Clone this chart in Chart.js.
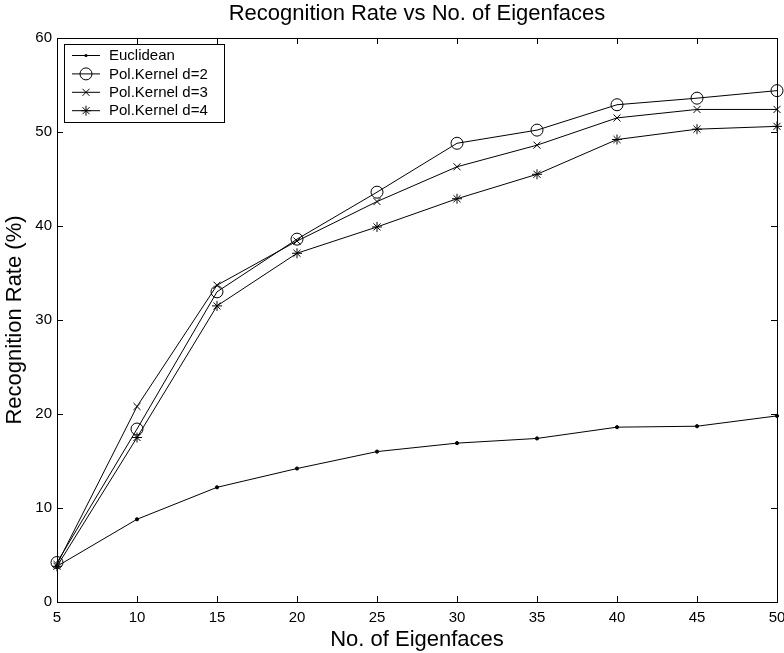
<!DOCTYPE html>
<html lang="en">
<head>
    <meta charset="UTF-8">
    <title>Recognition Rate vs No. of Eigenfaces</title>
    <script src="https://cdn.jsdelivr.net/npm/chart.js"></script>
    <style>
        body {
            margin: 0;
            padding: 0;
            background: #fff;
        }
        .wrap {
            width: 784px;
            height: 653px;
        }
    </style>
</head>
<body>
    <div class="wrap">
        <canvas id="chart" width="784" height="653"></canvas>
    </div>
    <script>
        // data
        const eigenfaces = [5, 10, 15, 20, 25, 30, 35, 40, 45, 50];
        const euclidean = [3.8, 8.8, 12.2, 14.2, 16.0, 16.9, 17.4, 18.6, 18.7, 19.8];
        const polD2 = [4.2, 18.4, 33.0, 38.6, 43.6, 48.8, 50.2, 52.9, 53.6, 54.4];
        const polD3 = [4.0, 20.8, 33.7, 38.4, 42.6, 46.3, 48.6, 51.5, 52.4, 52.4];
        const polD4 = [3.8, 17.5, 31.5, 37.1, 39.9, 42.9, 45.5, 49.2, 50.3, 50.6];
        const seriesNames = ['Euclidean', 'Pol.Kernel d=2', 'Pol.Kernel d=3', 'Pol.Kernel d=4'];
        const yTicks = [0, 10, 20, 30, 40, 50, 60];

        const FONT = '"Liberation Sans", Arial, Helvetica, sans-serif';

        function pts(vals) {
            return vals.map((v, i) => ({ x: eigenfaces[i], y: v }));
        }

        function drawMarker(ctx, style, x, y) {
            ctx.save();
            ctx.strokeStyle = '#000';
            ctx.fillStyle = '#000';
            ctx.lineWidth = 1;
            ctx.beginPath();
            if (style === 'dot') {
                ctx.arc(x, y, 1.6, 0, Math.PI * 2);
                ctx.fill();
            } else if (style === 'circle') {
                ctx.arc(x, y, 6, 0, Math.PI * 2);
                ctx.stroke();
            } else {
                const r = 5;
                ctx.moveTo(x - r * 0.7, y - r * 0.7); ctx.lineTo(x + r * 0.7, y + r * 0.7);
                ctx.moveTo(x + r * 0.7, y - r * 0.7); ctx.lineTo(x - r * 0.7, y + r * 0.7);
                if (style === 'star') {
                    ctx.moveTo(x - r, y); ctx.lineTo(x + r, y);
                    ctx.moveTo(x, y - r); ctx.lineTo(x, y + r);
                }
                ctx.stroke();
            }
            ctx.restore();
        }

        // MATLAB style box with inward ticks and a boxed legend
        const framePlugin = {
            id: 'frame',
            afterDraw(chart) {
                const ctx = chart.ctx;
                const a = chart.chartArea;
                const xs = chart.scales.x, ys = chart.scales.y;
                const tl = 6;
                ctx.save();
                ctx.strokeStyle = '#000';
                ctx.lineWidth = 1;
                ctx.beginPath();
                eigenfaces.forEach(v => {
                    const px = Math.round(xs.getPixelForValue(v)) + 0.5;
                    ctx.moveTo(px, a.bottom);
                    ctx.lineTo(px, a.bottom - tl);
                    ctx.moveTo(px, a.top);
                    ctx.lineTo(px, a.top + tl);
                });
                yTicks.forEach(v => {
                    const py = Math.round(ys.getPixelForValue(v)) + 0.5;
                    ctx.moveTo(a.left, py);
                    ctx.lineTo(a.left + tl, py);
                    ctx.moveTo(a.right, py);
                    ctx.lineTo(a.right - tl, py);
                });
                ctx.stroke();
                ctx.strokeRect(Math.round(a.left) + 0.5, Math.round(a.top) + 0.5,
                    Math.round(a.right - a.left), Math.round(a.bottom - a.top));

                // legend
                const lx = 64, ly = 44, lw = 160, lh = 78, rowH = 18.4;
                ctx.fillStyle = '#fff';
                ctx.fillRect(lx, ly, lw, lh);
                ctx.strokeRect(lx + 0.5, ly + 0.5, lw, lh);
                ctx.font = '15px ' + FONT;
                ctx.textBaseline = 'middle';
                const styles = ['dot', 'circle', 'crossRot', 'star'];
                chart.data.datasets.forEach((ds, i) => {
                    const y = ly + 11 + i * rowH;
                    ctx.beginPath();
                    ctx.moveTo(72, y + 0.5);
                    ctx.lineTo(100, y + 0.5);
                    ctx.stroke();
                    drawMarker(ctx, styles[i], 86, y + 0.5);
                    ctx.fillStyle = '#000';
                    ctx.fillText(ds.label, 109, y + 1);
                });
                ctx.restore();
            }
        };

        const common = {
            borderColor: '#000',
            borderWidth: 1,
            backgroundColor: 'transparent',
            pointBorderColor: '#000',
            pointBorderWidth: 1,
            tension: 0,
            clip: false
        };

        new Chart(document.getElementById('chart').getContext('2d'), {
            type: 'line',
            data: {
                datasets: [
                    Object.assign({}, common, { label: seriesNames[0], data: pts(euclidean), pointStyle: 'circle', pointRadius: 1.6, pointBackgroundColor: '#000' }),
                    Object.assign({}, common, { label: seriesNames[1], data: pts(polD2), pointStyle: 'circle', pointRadius: 6, pointBackgroundColor: 'transparent' }),
                    Object.assign({}, common, { label: seriesNames[2], data: pts(polD3), pointStyle: 'crossRot', pointRadius: 5 }),
                    Object.assign({}, common, { label: seriesNames[3], data: pts(polD4), pointStyle: 'star', pointRadius: 5 })
                ]
            },
            options: {
                responsive: false,
                animation: false,
                events: [],
                layout: { padding: { left: 0, right: 7, top: 0, bottom: 0 } },
                plugins: {
                    legend: { display: false },
                    tooltip: { enabled: false },
                    title: {
                        display: true,
                        fullSize: false,
                        text: 'Recognition Rate vs No. of Eigenfaces',
                        color: '#000',
                        font: { family: FONT, size: 22, weight: 'normal' },
                        padding: { top: 1, bottom: 10.6 }
                    }
                },
                scales: {
                    x: {
                        type: 'linear',
                        min: 5,
                        max: 50,
                        grid: { display: false, drawTicks: false, tickLength: 0 },
                        border: { display: false },
                        ticks: {
                            stepSize: 5,
                            color: '#000',
                            padding: 7,
                            maxRotation: 0,
                            font: { family: FONT, size: 15 }
                        },
                        title: {
                            display: true,
                            text: 'No. of Eigenfaces',
                            color: '#000',
                            font: { family: FONT, size: 22 },
                            padding: { top: 0, bottom: 0 }
                        },
                        afterFit(scale) {
                            scale.height = 51;
                            scale.paddingLeft = 0;
                            scale.paddingRight = 0;
                        }
                    },
                    y: {
                        type: 'linear',
                        min: yTicks[0],
                        max: yTicks[yTicks.length - 1],
                        grid: { display: false, drawTicks: false, tickLength: 0 },
                        border: { display: false },
                        ticks: {
                            stepSize: 10,
                            color: '#000',
                            padding: 5,
                            font: { family: FONT, size: 15 }
                        },
                        title: {
                            display: true,
                            text: 'Recognition Rate (%)',
                            color: '#000',
                            font: { family: FONT, size: 22 },
                            padding: { top: 2, bottom: 0 }
                        },
                        afterFit(scale) {
                            scale.width = 57;
                            scale.paddingTop = 0;
                            scale.paddingBottom = 0;
                        }
                    }
                }
            },
            plugins: [framePlugin]
        });
    </script>
</body>
</html>
